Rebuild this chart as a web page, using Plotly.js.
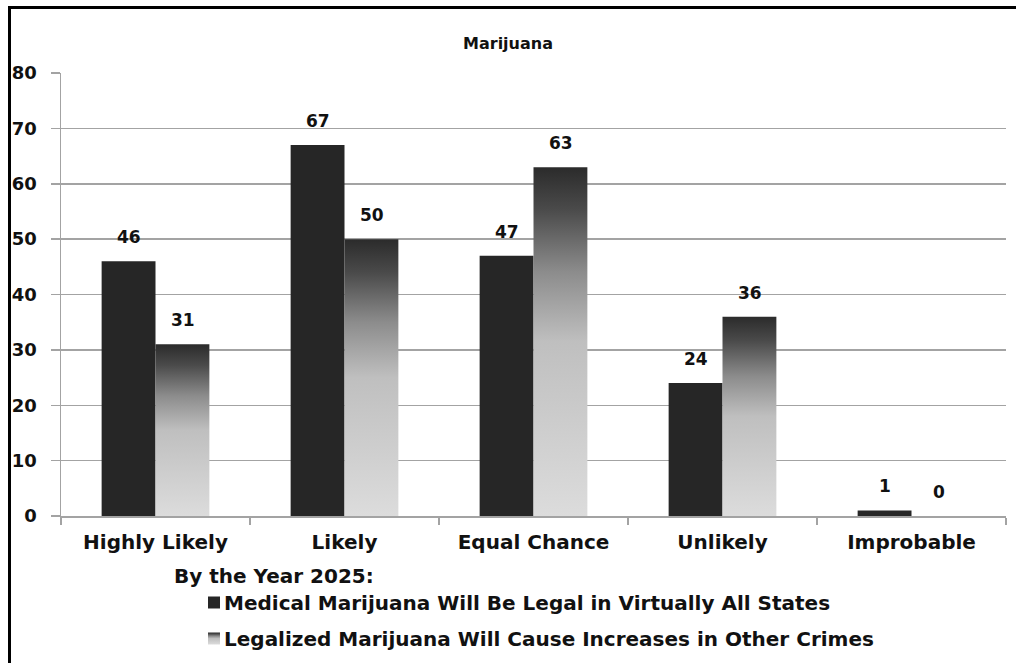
<!DOCTYPE html>
<html>
<head>
<meta charset="utf-8">
<script src="https://cdn.plot.ly/plotly-3.0.1.min.js"></script>
<style>
  html, body { margin: 0; padding: 0; background: #ffffff; }
  #chart { width: 1016px; height: 663px; }
</style>
</head>
<body>
<div id="chart"></div>
<script>
// Survey answers: likelihood of each outcome by 2025
const categories = ['Highly Likely', 'Likely', 'Equal Chance', 'Unlikely', 'Improbable'];
const medicalLegal = [46, 67, 47, 24, 1];
const crimeIncrease = [31, 50, 63, 36, 0];
const seriesNames = [
  'Medical Marijuana Will Be Legal in Virtually All States',
  'Legalized Marijuana Will Cause Increases in Other Crimes'
];
const yTicks = [0, 10, 20, 30, 40, 50, 60, 70, 80];

const FONT = 'DejaVu Sans, Liberation Sans, Arial, sans-serif';
const GRID = '#a3a3a3';

// pixel helpers for the paper area (margins l=61, r=10, t=73, b=0)
const PW = 1016 - 61 - 10, PH = 663 - 73;
const px2x = px => (px - 61) / PW;
const px2y = py => (663 - py) / PH;

const traces = [
  {
    type: 'bar', name: seriesNames[0], x: categories, y: medicalLegal,
    marker: { color: '#262626' }, legendgroup: 'a', hoverinfo: 'skip'
  },
  {
    type: 'bar', name: seriesNames[1], x: categories, y: crimeIncrease,
    marker: { color: '#9a9a9a' }, legendgroup: 'b', hoverinfo: 'skip'
  }
];

// Value labels sit above each bar
const annotations = [];
[medicalLegal, crimeIncrease].forEach((vals, s) => {
  vals.forEach((v, i) => {
    annotations.push({
      x: categories[i], y: v, xref: 'x', yref: 'y',
      text: String(v), showarrow: false,
      xshift: s === 0 ? -27 : 27, yshift: 24,
      yanchor: 'middle', xanchor: 'center',
      font: { family: FONT, size: 17, weight: 'bold', color: '#111' }
    });
  });
});

const layout = {
  width: 1016, height: 663,
  margin: { l: 61, r: 10, t: 73, b: 0 },
  paper_bgcolor: '#ffffff', plot_bgcolor: '#ffffff',
  font: { family: FONT, weight: 'bold', color: '#111' },
  title: {
    text: 'Marijuana', xref: 'container', yref: 'container',
    x: 0.5, xanchor: 'center', y: 1 - 43 / 663, yanchor: 'middle',
    font: { family: FONT, size: 16, weight: 'bold', color: '#111' }
  },
  barmode: 'group', bargap: 0.43, bargroupgap: 0,
  xaxis: {
    type: 'category', tickson: 'boundaries', ticks: 'outside', ticklen: 7,
    tickcolor: GRID, tickwidth: 1.5, showline: true, linecolor: GRID, linewidth: 1.5,
    showgrid: false, ticklabelstandoff: 7, automargin: false,
    tickfont: { family: FONT, size: 20, weight: 'bold', color: '#111' }
  },
  yaxis: {
    domain: [px2y(516), 1],
    range: [0, 80], tickvals: yTicks, ticks: 'outside', ticklen: 9,
    tickcolor: GRID, tickwidth: 1.5, showline: true, linecolor: GRID, linewidth: 1.5,
    showgrid: true, gridcolor: GRID, gridwidth: 1.5, zeroline: false,
    ticklabelstandoff: 10, automargin: false,
    tickfont: { family: FONT, size: 18, weight: 'bold', color: '#111' }
  },
  showlegend: true,
  legend: {
    x: px2x(172), xanchor: 'left', y: px2y(557), yanchor: 'top',
    orientation: 'v', traceorder: 'grouped', tracegroupgap: 7,
    bgcolor: 'rgba(0,0,0,0)', borderwidth: 0,
    title: { text: 'By the Year 2025:', side: 'top',
             font: { family: FONT, size: 20, weight: 'bold', color: '#111' } },
    font: { family: FONT, size: 20, weight: 'bold', color: '#111' }
  },
  annotations: annotations,
  shapes: [
    // frame: left and top edges
    { type: 'line', xref: 'paper', yref: 'paper', x0: px2x(9.5), x1: px2x(9.5),
      y0: px2y(6), y1: px2y(670), line: { color: '#000', width: 3 } },
    { type: 'line', xref: 'paper', yref: 'paper', x0: px2x(8), x1: px2x(1020),
      y0: px2y(7.5), y1: px2y(7.5), line: { color: '#000', width: 3 } }
  ]
};

Plotly.newPlot('chart', traces, layout, { staticPlot: true, displayModeBar: false }).then(gd => {
  // vertical dark-to-light fill for the second series
  const NS = 'http://www.w3.org/2000/svg';
  const svg = gd.querySelector('svg.main-svg');
  let defs = svg.querySelector('defs');
  if (!defs) { defs = document.createElementNS(NS, 'defs'); svg.insertBefore(defs, svg.firstChild); }
  const grad = document.createElementNS(NS, 'linearGradient');
  grad.setAttribute('id', 'crimeFade');
  grad.setAttribute('x1', '0'); grad.setAttribute('y1', '0');
  grad.setAttribute('x2', '0'); grad.setAttribute('y2', '1');
  [['0', '#2b2b2b'], ['0.12', '#4a4a4a'], ['0.3', '#8c8c8c'], ['0.5', '#bfbfbf'], ['1', '#dcdcdc']]
    .forEach(([off, col]) => {
      const st = document.createElementNS(NS, 'stop');
      st.setAttribute('offset', off); st.setAttribute('stop-color', col);
      grad.appendChild(st);
    });
  defs.appendChild(grad);
  const barTraces = gd.querySelectorAll('.barlayer .trace');
  if (barTraces[1]) barTraces[1].querySelectorAll('path').forEach(p => { p.style.fill = 'url(#crimeFade)'; });
  // legend swatches sit indented under the legend title, close to their text
  gd.querySelectorAll('.legend [clip-path]').forEach(el => el.removeAttribute('clip-path'));
  const legTraces = gd.querySelectorAll('.legend .traces');
  legTraces.forEach((t, i) => {
    t.querySelectorAll('.legendpoints path').forEach(p => {
      p.setAttribute('transform', 'translate(42,0)');
      if (i === 1) p.style.fill = 'url(#crimeFade)';
    });
    t.querySelectorAll('text.legendtext').forEach(tx => {
      tx.setAttribute('x', '52');
      tx.querySelectorAll('tspan[x]').forEach(ts => ts.setAttribute('x', '52'));
    });
  });
});
</script>
</body>
</html>
